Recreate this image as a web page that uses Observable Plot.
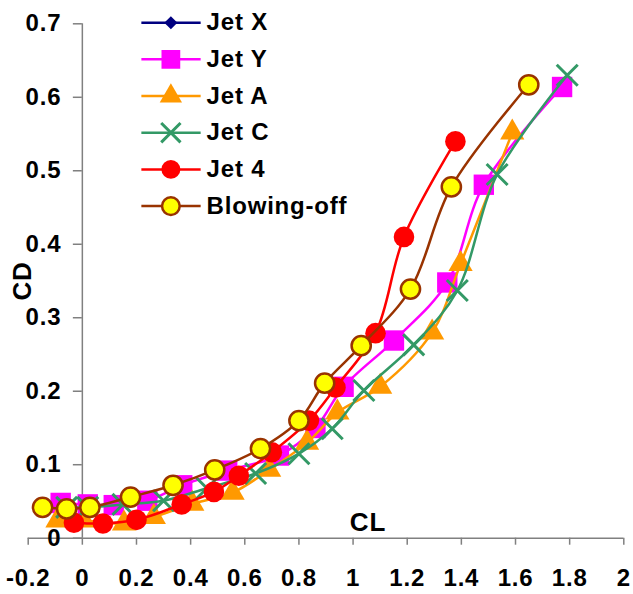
<!DOCTYPE html>
<html>
<head>
<meta charset="utf-8">
<script src="https://cdn.jsdelivr.net/npm/d3@7"></script>
<script src="https://cdn.jsdelivr.net/npm/@observablehq/plot@0.6"></script>
<style>
  html, body { margin: 0; padding: 0; background: #fff; }
  #chart svg { display: block; }
</style>
</head>
<body>
<div id="chart"></div>
<script>
// ---------- data ----------
const xTicks = [-0.2, 0, 0.2, 0.4, 0.6, 0.8, 1, 1.2, 1.4, 1.6, 1.8, 2];
const xTickLabels = ["-0.2", "0", "0.2", "0.4", "0.6", "0.8", "1", "1.2", "1.4", "1.6", "1.8", "2"];
const yTicks = [0, 0.1, 0.2, 0.3, 0.4, 0.5, 0.6, 0.7];
const yTickLabels = ["0", "0.1", "0.2", "0.3", "0.4", "0.5", "0.6", "0.7"];

const seriesNames = ["Jet X", "Jet Y", "Jet A", "Jet C", "Jet 4", "Blowing-off"];

const jetX_CL = [];
const jetX_CD = [];

const jetY_CL = [-0.08, 0.02, 0.116, 0.24, 0.369, 0.535, 0.726, 0.861, 0.965, 1.151, 1.348, 1.483, 1.772];
const jetY_CD = [0.048, 0.046, 0.045, 0.051, 0.072, 0.092, 0.1125, 0.150, 0.206, 0.269, 0.348, 0.481, 0.614];

const jetA_CL = [-0.092, 0.005, 0.154, 0.264, 0.406, 0.555, 0.69, 0.83, 0.942, 1.10, 1.292, 1.397, 1.588];
const jetA_CD = [0.024, 0.024, 0.020, 0.029, 0.047, 0.062, 0.093, 0.130, 0.171, 0.206, 0.280, 0.373, 0.552];

const jetC_CL = [-0.058, 0.02, 0.15, 0.30, 0.46, 0.64, 0.80, 0.923, 1.04, 1.224, 1.385, 1.532, 1.791];
const jetC_CD = [0.042, 0.042, 0.046, 0.051, 0.068, 0.088, 0.115, 0.149, 0.201, 0.263, 0.337, 0.495, 0.630];

const jet4_CL = [-0.031, 0.076, 0.20, 0.367, 0.486, 0.578, 0.70, 0.837, 0.935, 1.083, 1.188, 1.378];
const jet4_CD = [0.021, 0.020, 0.025, 0.046, 0.063, 0.085, 0.117, 0.160, 0.205, 0.279, 0.410, 0.540];

const blow_CL = [-0.147, -0.058, 0.028, 0.178, 0.335, 0.489, 0.658, 0.80, 0.895, 1.03, 1.212, 1.363, 1.649];
const blow_CD = [0.042, 0.040, 0.042, 0.056, 0.072, 0.093, 0.122, 0.160, 0.211, 0.262, 0.339, 0.478, 0.617];

// ---------- styles ----------
const styles = {
  "Jet X":       {line: "#000080", symbol: "diamond2", fill: "#000080", stroke: "none", r: 5.9, sw: 0},
  "Jet Y":       {line: "#FF00FF", symbol: "square",   fill: "#FF00FF", stroke: "none", r: 11.5, sw: 0},
  "Jet A":       {line: "#FF9900", symbol: "triangle", fill: "#FF9900", stroke: "none", r: 9.0, sw: 0},
  "Jet C":       {line: "#339966", symbol: "times",    fill: "none",    stroke: "#339966", r: 9.6, sw: 3},
  "Jet 4":       {line: "#FF0000", symbol: "circle",   fill: "#FF0000", stroke: "none", r: 10.3, sw: 0},
  "Blowing-off": {line: "#993300", symbol: "circle",   fill: "#FFFF00", stroke: "#993300", r: 9.6, sw: 2.5}
};

const rawSeries = {
  "Jet X": [jetX_CL, jetX_CD],
  "Jet Y": [jetY_CL, jetY_CD],
  "Jet A": [jetA_CL, jetA_CD],
  "Jet C": [jetC_CL, jetC_CD],
  "Jet 4": [jet4_CL, jet4_CD],
  "Blowing-off": [blow_CL, blow_CD]
};

const toRows = (name) => rawSeries[name][0].map((cl, i) => ({cl, cd: rawSeries[name][1][i]}));

const FONT = "'Liberation Sans', Arial, Helvetica, sans-serif";
const AXIS = "#808080";
const FS = 24;

const marks = [];

// axes lines
marks.push(Plot.ruleY([0], {x1: -0.2, x2: 2, stroke: AXIS, strokeWidth: 1.5}));
marks.push(Plot.ruleX([0], {y1: 0, y2: 0.7, stroke: AXIS, strokeWidth: 1.5}));
// x ticks (downward)
marks.push(Plot.ruleX(xTicks, {x: d => d, y1: 0, y2: -7 / 734.9, stroke: AXIS, strokeWidth: 1.5}));
// y ticks (leftward)
marks.push(Plot.ruleY(yTicks, {y: d => d, x1: -9 / 270.8, x2: 0, stroke: AXIS, strokeWidth: 1.5}));

// tick labels
marks.push(Plot.text(xTicks, {x: d => d, y: () => 0, dy: 40, text: (d, i) => xTickLabels[i],
  fontSize: FS, fontWeight: "bold", fill: "#000", textAnchor: "middle"}));
marks.push(Plot.text(yTicks, {x: () => 0, y: d => d, dx: -21, text: (d, i) => yTickLabels[i],
  fontSize: FS, fontWeight: "bold", fill: "#000", textAnchor: "end"}));

// series
for (const name of seriesNames) {
  const s = styles[name];
  const rows = toRows(name);
  if (!rows.length) continue;
  marks.push(Plot.line(rows, {x: "cl", y: "cd", stroke: s.line, strokeWidth: 2.5, curve: "catmull-rom"}));
  marks.push(Plot.dot(rows, {x: "cl", y: "cd", symbol: () => s.symbol, r: s.r, fill: s.fill,
    stroke: s.stroke, strokeWidth: s.sw}));
}

// axis titles
marks.push(Plot.text(["CL"], {x: () => 1.055, y: () => 0.0215, text: d => d, fontSize: 26, fontWeight: "bold", fill: "#000"}));
marks.push(Plot.text(["CD"], {x: () => -0.22, y: () => 0.35, text: d => d, fontSize: 26, fontWeight: "bold",
  fill: "#000", rotate: -90}));

// legend
const legendRows = seriesNames.map((name, i) => ({name, i}));
const legY = d => 0.7015 - d.i * 0.0499;
for (const row of legendRows) {
  const s = styles[row.name];
  marks.push(Plot.link([row], {x1: () => 0.218, x2: () => 0.437, y1: legY, y2: legY, stroke: s.line, strokeWidth: 2.5}));
  marks.push(Plot.dot([row], {x: () => 0.327, y: legY, symbol: () => s.symbol, r: row.name === "Jet X" ? s.r : s.r * 0.92,
    fill: s.fill, stroke: s.stroke, strokeWidth: s.sw}));
}
marks.push(Plot.text(legendRows, {x: () => 0.459, y: legY, text: "name", textAnchor: "start",
  fontSize: FS, fontWeight: "bold", fill: "#000"}));

const chart = Plot.plot({
  width: 633,
  height: 594,
  marginLeft: 27.7,
  marginRight: 9.7,
  marginTop: 23.3,
  marginBottom: 56.3,
  x: {domain: [-0.2, 2], axis: null},
  y: {domain: [0, 0.7], axis: null},
  symbol: {type: "identity"},
  style: {fontFamily: FONT, letterSpacing: "0.8px", overflow: "visible", background: "#fff"},
  marks
});
document.getElementById("chart").appendChild(chart);
</script>
</body>
</html>
